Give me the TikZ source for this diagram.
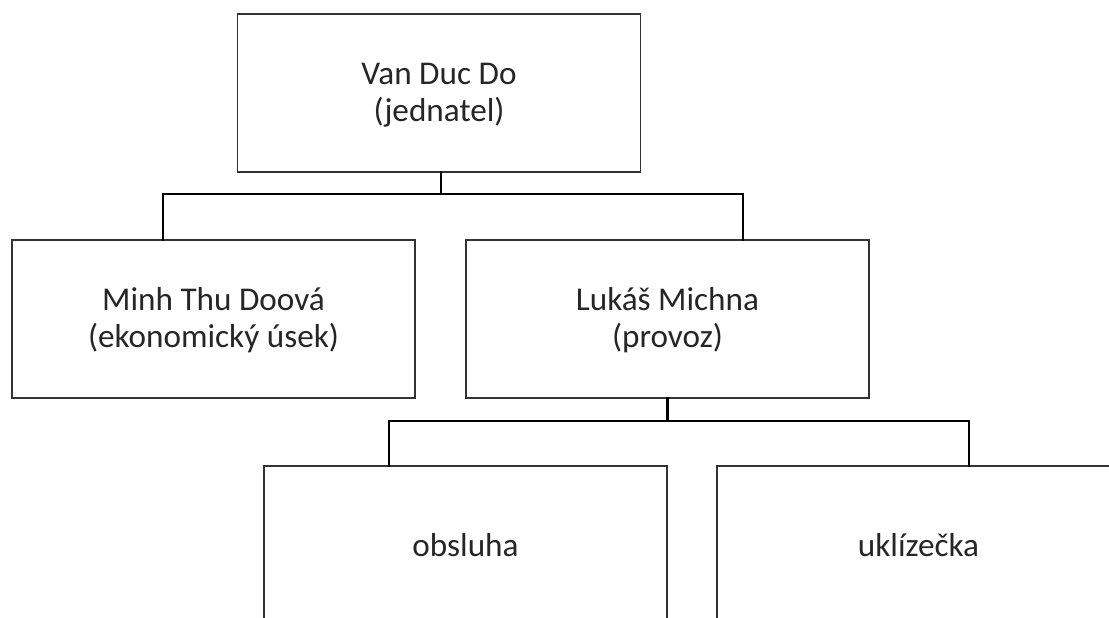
\documentclass[tikz,border=0pt]{standalone}
\usepackage{fontspec}
\setmainfont{Carlito}
\usetikzlibrary{positioning,calc}

\begin{document}
\begin{tikzpicture}[x=0.5pt, y=-0.5pt,
    box/.style={draw=black!80, line width=0.65pt, minimum width=201.5pt,
      minimum height=79pt, inner sep=0, align=center, text=black!85,
      font=\fontsize{16.6}{18.4}\selectfont},
    link/.style={line width=1.4pt, line cap=rect}]
  \clip (0,0) rectangle (1109,617);
  \fill[white] (0,0) rectangle (1109,617);
  % boxes
  \node[box] (boss) at (439,93)    {\strut Van Duc Do\\(jednatel)};
  \node[box] (econ) at (213.5,319) {\strut Minh Thu Doová\\(ekonomický úsek)};
  \node[box] (prov) at (667.5,319) {\strut Lukáš Michna\\(provoz)};
  \node[box] (obsl) at (465.5,545) {obsluha};
  \node[box] (ukl)  at (918.5,545) {uklízečka};
  % first level
  \coordinate (bus1) at (441,194);
  \coordinate (tapL) at (163,194);
  \coordinate (tapR) at (743,194);
  \draw[link] (bus1 |- boss.south) -- (bus1);
  \draw[link] (tapL |- econ.north) -- (tapL) -- (tapR) -- (tapR |- prov.north);
  % second level
  \coordinate (bus2) at (667.5,421);
  \coordinate (tapO) at (389,421);
  \coordinate (tapU) at (969,421);
  \draw[link] (prov.south) -- (bus2);
  \draw[link] (tapO |- obsl.north) -- (tapO) -- (tapU) -- (tapU |- ukl.north);
\end{tikzpicture}
\end{document}
